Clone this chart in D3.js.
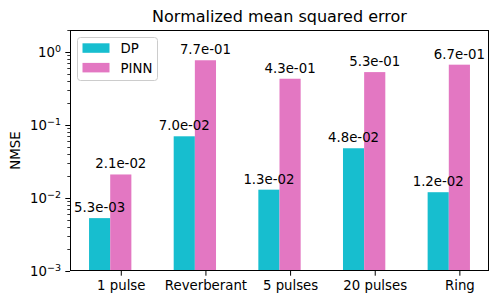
<!DOCTYPE html>
<html><head><meta charset="utf-8">
<script src="https://cdn.jsdelivr.net/npm/d3@7"></script>
<style>body{margin:0;background:#fff;} text{font-family:"DejaVu Sans",sans-serif;fill:#000;}</style>
</head><body><svg id="c" width="499" height="304"></svg>
<script>
const categories = ["1 pulse","Reverberant","5 pulses","20 pulses","Ring"];
const dpValues = [5.3e-3, 7.0e-2, 1.3e-2, 4.8e-2, 1.2e-2];
const pinnValues = [2.1e-2, 7.7e-1, 4.3e-1, 5.3e-1, 6.7e-1];
const seriesNames = ["DP","PINN"];
const seriesColors = ["#17becf","#e377c2"];
const yTickValues = [1e-3, 1e-2, 1e-1, 1e0];
const yTickExps = ["\u22123","\u22122","\u22121","0"];

const svg = d3.select("#c");
const L = 70, R = 489, T = 30, B = 271;
const barW = 0.25;
const x = d3.scaleLinear().domain([-0.6, 4.35]).range([L, R]);
const y = d3.scaleLog().domain([1e-3, 2.0]).range([B, T]);

const fmt = v => { const e = Math.floor(Math.log10(v)); const m = v/Math.pow(10,e);
  const es = (e<0?"-":"+") + String(Math.abs(e)).padStart(2,"0"); return m.toFixed(1)+"e"+es; };

const series = [dpValues, pinnValues];
const offsets = [-0.375, -0.125];
const barsG = svg.append("g"), labelsG = svg.append("g");
series.forEach((vals, s) => {
  barsG.append("g").selectAll("rect").data(vals).enter().append("rect")
    .attr("x", (d,i) => x(i + offsets[s]))
    .attr("width", (d,i) => x(i + offsets[s] + barW) - x(i + offsets[s]))
    .attr("y", d => y(d)).attr("height", d => B - y(d))
    .attr("fill", seriesColors[s]);
  labelsG.append("g").selectAll("text").data(vals).enter().append("text")
    .attr("x", (d,i) => x(i + offsets[s] + barW/2))
    .attr("y", d => y(d) - 6)
    .attr("text-anchor","middle").attr("font-size","13.3px")
    .text(d => fmt(d));
});

// axes
const xAxis = d3.axisBottom(x).tickValues(categories.map((c,i)=>i)).tickFormat((d,i)=>categories[i]).tickSize(4.7).tickPadding(4.5);
const gx = svg.append("g").attr("transform",`translate(0,${B})`).call(xAxis);
gx.select(".domain").remove();
gx.selectAll("text").attr("font-size","13.3px").style("font-family","DejaVu Sans");
gx.selectAll("line").attr("stroke","#000").attr("stroke-width",1);

// y ticks
const gy = svg.append("g");
const minor = [];
for (let e=-3; e<=0; e++) for (let k=2;k<=9;k++){ const v=k*Math.pow(10,e); if (v<=2.0) minor.push(v);}
gy.selectAll("line.minor").data(minor).enter().append("line")
  .attr("x1",L).attr("x2",L-2.7).attr("y1",d=>Math.round(y(d))+0.5).attr("y2",d=>Math.round(y(d))+0.5)
  .attr("stroke","#000").attr("stroke-width",0.8);
gy.selectAll("line.major").data(yTickValues).enter().append("line")
  .attr("x1",L).attr("x2",L-4.7).attr("y1",d=>Math.round(y(d))+0.5).attr("y2",d=>Math.round(y(d))+0.5)
  .attr("stroke","#000").attr("stroke-width",1);
const yl = gy.selectAll("text.yl").data(yTickValues).enter().append("text")
  .attr("x", L-9).attr("y", d=>y(d)+5).attr("text-anchor","end").attr("font-size","13.3px");
yl.append("tspan").text("10");
yl.append("tspan").attr("dy",-5).attr("font-size","9.5px").text((d,i)=>yTickExps[i]);

// frame
svg.append("rect").attr("x",L+0.5).attr("y",T+0.5).attr("width",R-L-1).attr("height",B-T-1)
  .attr("fill","none").attr("stroke","#000").attr("stroke-width",1);

// title
svg.append("text").attr("x",(L+R)/2).attr("y",T-8).attr("text-anchor","middle").attr("font-size","16px").text("Normalized mean squared error");
// ylabel
svg.append("text").attr("transform",`translate(20,${(T+B)/2}) rotate(-90)`).attr("text-anchor","middle").attr("font-size","13.3px").text("NMSE");

// legend
const lg = svg.append("g");
lg.append("rect").attr("x",77.5).attr("y",37.5).attr("width",80).attr("height",43).attr("rx",3)
  .attr("fill","#fff").attr("fill-opacity",0.8).attr("stroke","#cccccc").attr("stroke-width",1);
seriesNames.forEach((n,i)=>{
  lg.append("rect").attr("x",82.5).attr("y",43.3+i*19.6).attr("width",27).attr("height",9.5).attr("fill",seriesColors[i]);
  lg.append("text").attr("x",120.5).attr("y",53+i*19.6).attr("font-size","13.3px").text(n);
});
</script></body></html>
